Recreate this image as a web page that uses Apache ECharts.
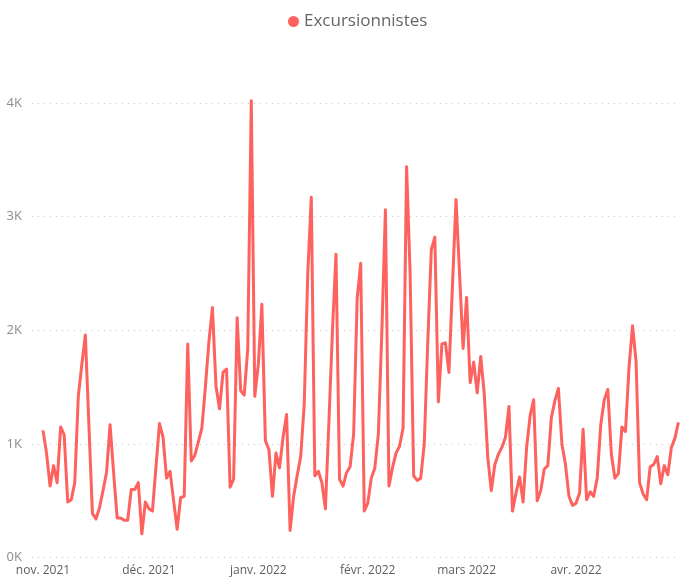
<!DOCTYPE html>
<html>
<head>
<meta charset="utf-8">
<script src="https://cdn.jsdelivr.net/npm/echarts@6/dist/echarts.min.js"></script>
<style>
html,body{margin:0;padding:0;background:#fff;}
#chart{width:680px;height:577px;}
</style>
</head>
<body>
<div id="chart"></div>
<script>
// Daily values from 2021-11-01 to 2022-04-30
const seriesName = 'Excursionnistes';
const startDate = '2021-11-01';
const visitors = [
1120,920,630,810,660,1150,1080,490,510,660,
1420,1700,1960,1170,390,340,440,590,750,1170,
750,350,350,330,330,600,600,660,210,490,
430,410,800,1180,1060,700,760,500,250,530,
540,1880,850,900,1020,1140,1500,1900,2200,1510,
1310,1630,1660,620,690,2110,1470,1430,1840,4020,
1420,1700,2230,1030,950,540,920,790,1060,1260,
240,540,720,890,1350,2500,3170,720,760,660,
430,1200,2000,2670,690,630,750,800,1090,2280,
2590,410,480,700,790,1090,2000,3060,630,790,
920,980,1140,3440,2500,720,680,700,1000,1900,
2710,2820,1370,1880,1890,1630,2400,3150,2500,1840,
2290,1540,1720,1450,1770,1440,880,590,820,910,
970,1060,1330,410,570,710,490,970,1250,1390,
500,590,780,810,1230,1380,1490,1000,820,540,
460,480,570,1130,510,580,540,700,1170,1390,
1480,910,700,740,1150,1110,1670,2040,1730,660,
560,510,800,820,890,650,810,730,970,1050,
1190
];
// Month tick labels (placed at first day of each month)
const monthLabels = ['nov. 2021','déc. 2021','janv. 2022','févr. 2022','mars 2022','avr. 2022'];
const monthStarts = ['2021-11-01','2021-12-01','2022-01-01','2022-02-01','2022-03-01','2022-04-01'];
const yTicks = [0,1000,2000,3000,4000];

const DAY = 86400000;
const t0 = Date.parse(startDate + 'T00:00:00Z');
const dayIndex = s => Math.round((Date.parse(s + 'T00:00:00Z') - t0) / DAY);
const tickIdx = monthStarts.map(dayIndex);
const labelMap = {};
tickIdx.forEach((d,i)=>{labelMap[d]=monthLabels[i];});
const data = visitors.map((v,i)=>[i,v]);

const chart = echarts.init(document.getElementById('chart'), null, {renderer:'canvas'});
chart.setOption({
  animation:false,
  backgroundColor:'#ffffff',
  legend:{
    top:8, left:283,
    icon:'circle', itemWidth:11, itemHeight:11,
    textStyle:{fontFamily:'"Open Sans", sans-serif', fontSize:17, color:'#666666'},
    data:[seriesName]
  },
  grid:{left:32, right:0, top:103, bottom:19.3, containLabel:false},
  xAxis:{
    type:'value',
    min:-3.116, max:180.45,
    axisLine:{show:false}, axisTick:{show:false}, splitLine:{show:false},
    axisLabel:{
      customValues: tickIdx,
      formatter: v => labelMap[Math.round(v)] || '',
      fontFamily:'"Open Sans", sans-serif', fontSize:12, color:'#605E5C', margin:7
    }
  },
  yAxis:{
    type:'value', min:0, max:4000, interval:1000,
    axisLine:{show:false}, axisTick:{show:false},
    axisLabel:{
      formatter: v => (yTicks.indexOf(v) >= 0 ? (v/1000) + 'K' : ''),
      fontFamily:'"Open Sans", sans-serif', fontSize:13, color:'#8c8c8c', margin:10
    },
    splitLine:{show:true, lineStyle:{color:'#c8c8c8', type:[1,5], width:1}}
  },
  series:[{
    name:seriesName, type:'line', data:data,
    showSymbol:false, symbol:'circle', clip:false,
    itemStyle:{color:'#FD625E'},
    lineStyle:{color:'#FD625E', width:3, join:'round'}
  }]
});
</script>
</body>
</html>
